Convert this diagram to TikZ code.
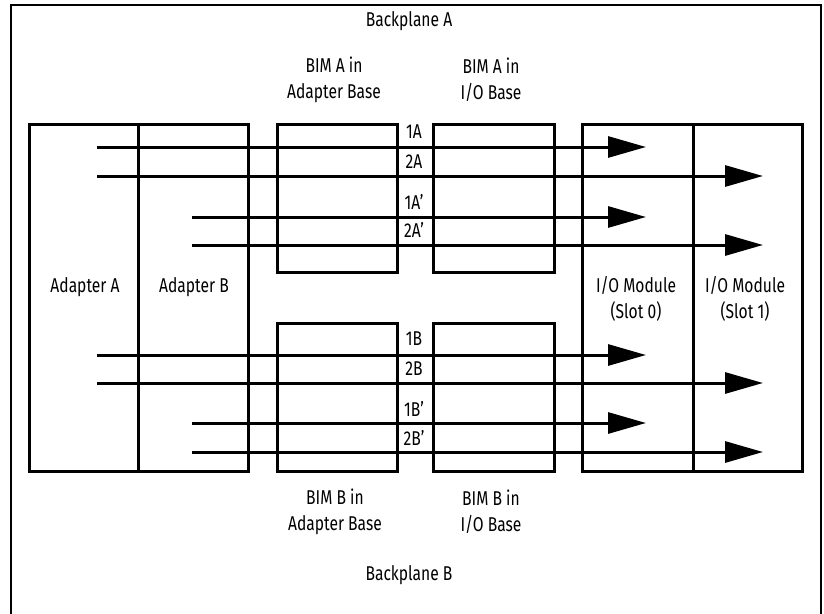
\documentclass[tikz,border=0pt]{standalone}
\usepackage{fontspec}
\setmainfont[FakeStretch=0.78]{Fira Sans}
\usetikzlibrary{arrows.meta,fit}
\begin{document}
\begin{tikzpicture}[x=1pt,y=-1pt,
  box/.style={draw, line width=3pt, inner sep=0pt},
  frame/.style={draw, line width=2.4pt},
  sig/.style={line width=3pt, -{Triangle[length=38pt,width=21pt]}},
  lbl/.style={font=\fontsize{20}{26}\selectfont, align=center, inner sep=0pt}]
\useasboundingbox (0,0) rectangle (824,613);
% outer frame (bottom edge outside picture)
\draw[frame] (11,618) -- (11,5) -- (821,5) -- (821,618);
% boxes
\node[box, fit={(29,124) (138,471)}] (adA) {};
\node[box, fit={(138,124) (248,471)}] (adB) {};
\node[box, fit={(277,124) (397,272)}] (bimAa) {};
\node[box, fit={(433,124) (554,272)}] (bimAi) {};
\node[box, fit={(277,323) (397,471)}] (bimBa) {};
\node[box, fit={(433,323) (554,471)}] (bimBi) {};
\node[box, fit={(582,124) (693,471)}] (io0) {};
\node[box, fit={(693,124) (802,471)}] (io1) {};
% connector end points
\coordinate (s1A) at (97,147);  \coordinate (e1A) at (646,147);
\coordinate (s2A) at (97,176);  \coordinate (e2A) at (763,176);
\coordinate (s3A) at (192,217); \coordinate (e3A) at (646,217);
\coordinate (s4A) at (192,245); \coordinate (e4A) at (763,245);
\coordinate (s1B) at (97,355);  \coordinate (e1B) at (646,355);
\coordinate (s2B) at (97,383);  \coordinate (e2B) at (763,383);
\coordinate (s3B) at (192,423); \coordinate (e3B) at (646,423);
\coordinate (s4B) at (192,452); \coordinate (e4B) at (763,452);
\foreach \k in {1A,2A,3A,4A,1B,2B,3B,4B} \draw[sig] (s\k) -- (e\k);
% labels
\node[lbl] (tBpA) at (409,21) {Backplane A};
\node[lbl] (tBpB) at (409,575) {Backplane B};
\node[lbl] (tBimAa) at (334,80) {BIM A in\\Adapter Base};
\node[lbl] (tBimAi) at (491,80) {BIM A in\\I/O Base};
\node[lbl] (tBimBa) at (335,512) {BIM B in\\Adapter Base};
\node[lbl] (tBimBi) at (491,512) {BIM B in\\I/O Base};
\node[lbl] (tAdA) at (85,287) {Adapter A};
\node[lbl] (tAdB) at (194,287) {Adapter B};
\node[lbl] (tIo0) at (636,299) {I/O Module\\(Slot 0)};
\node[lbl] (tIo1) at (745,299) {I/O Module\\(Slot 1)};
\node[lbl] (l1A) at (414,132) {1A};
\node[lbl] (l2A) at (414,162) {2A};
\node[lbl] (l3A) at (414,202) {1A’};
\node[lbl] (l4A) at (414,230) {2A’};
\node[lbl] (l1B) at (414,339) {1B};
\node[lbl] (l2B) at (414,369) {2B};
\node[lbl] (l3B) at (414,409) {1B’};
\node[lbl] (l4B) at (414,438) {2B’};
\end{tikzpicture}
\end{document}
